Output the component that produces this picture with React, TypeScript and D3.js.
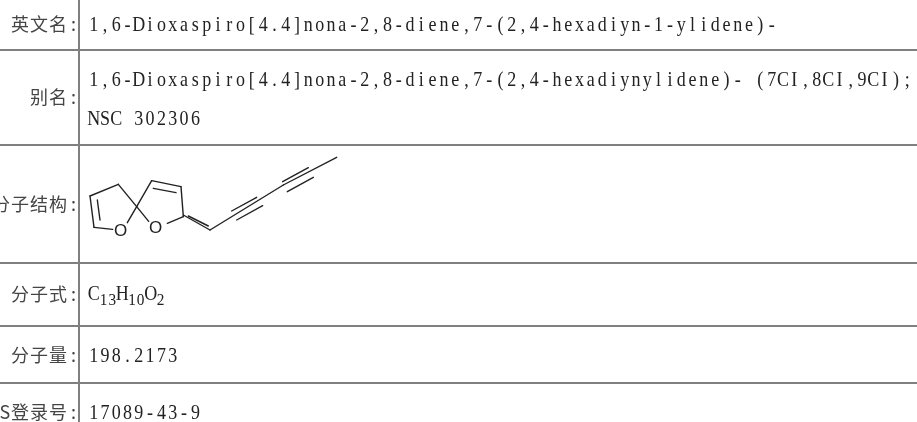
import React from "react";
import * as d3 from "d3";

// table content, top to bottom
const rowLabels = ["英文名:", "别名:", "分子结构:", "分子式:", "分子量:", "CAS登录号:"];
const englishName = "1,6-Dioxaspiro[4.4]nona-2,8-diene,7-(2,4-hexadiyn-1-ylidene)-";
const aliasLines = [
  "1,6-Dioxaspiro[4.4]nona-2,8-diene,7-(2,4-hexadiynylidene)- (7CI,8CI,9CI);",
  "NSC 302306",
];
const formulaParts = ["C", "13", "H", "10", "O", "2"];
const molWeight = "198.2173";
const casNumber = "17089-43-9";

// molecule drawing, in its own units: [x1, y1, x2, y2]
const bonds = [
  [60, 168, 145, 133],
  [145, 133, 200, 200],
  [200, 200, 172, 248],
  [128, 268, 72, 262],
  [72, 262, 60, 168],
  [82, 180, 90, 240],
  [200, 200, 245, 122],
  [245, 122, 333, 140],
  [250, 145, 318, 158],
  [333, 140, 340, 230],
  [340, 230, 292, 250],
  [200, 200, 236, 244],
  [340, 225, 420, 270],
  [355, 228, 415, 258],
  [420, 270, 640, 135],
  [485, 213, 560, 172],
  [500, 240, 578, 197],
  [640, 135, 800, 52],
  [638, 125, 715, 83],
  [652, 155, 730, 112],
];
const oxygens = [
  [152, 270],
  [257, 262],
];

const width = 917;
const height = 422;
const colX = 79;
const rowLines = [50, 145, 263, 326, 383];
const labelBaselines = [31, 104, 211, 301, 362, 419];
const latinStep = 11.3;
const colonStep = 12;
const cjkStep = 19;
const valueX = 88;
const squeeze = 0.9; // latin glyphs are drawn narrow so they sit in fixed slots
const lineColor = "#808080";
const latinFont = "'Liberation Serif', serif";
const cjkFont = "'Noto Sans CJK SC', sans-serif";

const molX = d3.scaleLinear().domain([0, 840]).range([70, 350]);
const molY = d3.scaleLinear().domain([0, 330]).range([140, 250]);

// SimSun-like fixed pitch: every character gets its own slot
function Mono({ text, x, y, size = 20, step = latinStep }) {
  const xs = Array.from(text).map((_, i) => ((x + step * (i + 0.5)) / squeeze).toFixed(1));
  return (
    <text
      transform={`scale(${squeeze},1)`}
      x={xs.join(" ")}
      y={y}
      fontFamily={latinFont}
      fontSize={size}
      fill="#222"
      textAnchor="middle"
      style={{ whiteSpace: "pre" }}
    >
      {text}
    </text>
  );
}

function RowLabel({ text, y }) {
  const chars = Array.from(text);
  const slot = (c) => (c === ":" ? colonStep : c.charCodeAt(0) > 255 ? cjkStep : latinStep);
  let right = 79.5;
  const xs = new Array(chars.length);
  for (let i = chars.length - 1; i >= 0; i--) {
    xs[i] = right - slot(chars[i]) / 2;
    right -= slot(chars[i]);
  }
  return (
    <text
      x={xs.map((v) => v.toFixed(1)).join(" ")}
      y={y}
      fontFamily={cjkFont}
      fontSize={18}
      fill="#444"
      textAnchor="middle"
    >
      {text}
    </text>
  );
}

function Formula({ x, y }) {
  let cursor = x;
  return (
    <g>
      {formulaParts.map((part, i) => {
        const isSub = i % 2 === 1;
        const step = isSub ? 8.6 : latinStep;
        const el = (
          <Mono key={i} text={part} x={cursor} y={isSub ? y + 5 : y} size={isSub ? 17 : 20} step={step} />
        );
        cursor += step * part.length;
        return el;
      })}
    </g>
  );
}

export default function App() {
  return (
    <svg
      width={width}
      height={height}
      style={{ position: "fixed", left: 0, top: 0, background: "#fff" }}
    >
      <defs>
        <filter id="soft" filterUnits="userSpaceOnUse" x="0" y="0" width={width} height={height}>
          <feGaussianBlur stdDeviation="0.4" />
        </filter>
        <filter id="softText" filterUnits="userSpaceOnUse" x="0" y="0" width={width} height={height}>
          <feGaussianBlur stdDeviation="0.2" />
        </filter>
      </defs>
      {rowLines.map((y) => (
        <line key={y} x1={0} x2={width} y1={y} y2={y} stroke={lineColor} strokeWidth={2} />
      ))}
      <line x1={colX} x2={colX} y1={0} y2={height} stroke={lineColor} strokeWidth={2} />

      <g filter="url(#softText)">
        {rowLabels.map((label, i) => (
          <RowLabel key={label} text={label} y={labelBaselines[i]} />
        ))}

        <Mono text={englishName} x={valueX} y={31} />
        <Mono text={aliasLines[0]} x={valueX} y={86} />
        <Mono text={aliasLines[1]} x={valueX} y={125} />
        <Formula x={valueX} y={300} />
        <Mono text={molWeight} x={valueX} y={362} />
        <Mono text={casNumber} x={valueX} y={419} />
      </g>

      <g filter="url(#soft)">
        <g stroke="#222" strokeWidth={1.4} strokeLinecap="round">
          {bonds.map((d, i) => (
            <line key={i} x1={molX(d[0])} y1={molY(d[1])} x2={molX(d[2])} y2={molY(d[3])} />
          ))}
        </g>
        {oxygens.map((d, i) => (
          <text
            key={i}
            x={molX(d[0])}
            y={molY(d[1]) + 6}
            textAnchor="middle"
            fontFamily="'Liberation Sans', sans-serif"
            fontSize={17}
            fill="#222"
          >
            O
          </text>
        ))}
      </g>
    </svg>
  );
}
